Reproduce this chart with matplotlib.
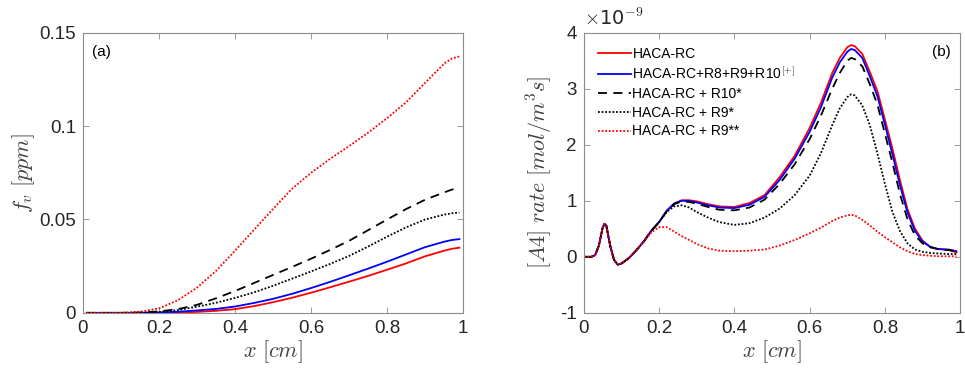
import matplotlib
matplotlib.use("Agg")
import matplotlib.pyplot as plt
from matplotlib.ticker import FuncFormatter

plt.rcParams['font.family'] = ['Liberation Sans', 'DejaVu Sans']
plt.rcParams['mathtext.fontset'] = 'cm'

# (a) soot volume fraction f_v [ppm] vs x [cm]
xa = [0.01, 0.1, 0.15, 0.2, 0.25, 0.3, 0.35, 0.4, 0.45, 0.5, 0.55, 0.6, 0.65,
      0.7, 0.75, 0.8, 0.85, 0.9, 0.95, 0.97, 0.99]
fv_haca = [0, 0, 0, 0.0001, 0.0002, 0.0005, 0.0011, 0.002, 0.0036, 0.0057, 0.0081,
           0.0108, 0.0137, 0.0167, 0.0198, 0.0231, 0.0265, 0.0303, 0.0333, 0.0343, 0.0349]
fv_all = [0, 0, 0, 0.0002, 0.0006, 0.0013, 0.0021, 0.0034, 0.0053, 0.0075, 0.0102,
          0.0133, 0.0166, 0.0201, 0.0237, 0.0274, 0.0313, 0.0352, 0.0381, 0.039, 0.0395]
fv_r10 = [0, 0, 0.0002, 0.0008, 0.002, 0.0043, 0.0078, 0.0117, 0.016, 0.0203, 0.0246,
          0.029, 0.0337, 0.0386, 0.0443, 0.05, 0.0556, 0.0606, 0.0645, 0.066, 0.0668]
fv_r9 = [0, 0, 0.0001, 0.0005, 0.0015, 0.0033, 0.0054, 0.008, 0.011, 0.0145, 0.0183,
         0.0222, 0.0262, 0.0305, 0.0355, 0.0408, 0.0458, 0.05, 0.0526, 0.0533, 0.0537]
fv_r9ss = [0, 0, 0.0006, 0.0024, 0.0068, 0.0135, 0.0225, 0.0333, 0.0445, 0.0557, 0.0665,
           0.075, 0.0825, 0.0893, 0.0965, 0.1043, 0.1128, 0.1232, 0.1335, 0.1362, 0.1373]

# (b) A4 rate [1e-9 mol/m^3 s] vs x [cm]
xb = [0, 0.02, 0.03, 0.04, 0.05, 0.055, 0.06, 0.07, 0.08, 0.09, 0.1, 0.12, 0.14,
      0.16, 0.18, 0.2, 0.22, 0.24, 0.26, 0.28, 0.3, 0.33, 0.36, 0.4, 0.44, 0.48,
      0.52, 0.56, 0.6, 0.63, 0.66, 0.68, 0.7, 0.71, 0.72, 0.74, 0.76, 0.78, 0.8,
      0.82, 0.84, 0.86, 0.88, 0.9, 0.92, 0.94, 0.97, 0.99]
start = [0, 0, 0.03, 0.2, 0.52, 0.59, 0.55, 0.2, -0.05, -0.14, -0.12, -0.02, 0.12, 0.28]
a4_haca = start + [0.47, 0.62, 0.82, 0.95, 1.01, 1.01, 0.99, 0.94, 0.9, 0.89, 0.96,
                   1.1, 1.42, 1.8, 2.3, 2.75, 3.28, 3.55, 3.74, 3.78, 3.76, 3.62,
                   3.3, 2.96, 2.45, 1.93, 1.37, 0.85, 0.5, 0.29, 0.18, 0.14, 0.12, 0.08]
a4_all = start + [0.47, 0.62, 0.82, 0.95, 1.0, 1.0, 0.97, 0.92, 0.88, 0.87, 0.93,
                  1.07, 1.37, 1.75, 2.23, 2.67, 3.2, 3.47, 3.66, 3.71, 3.69, 3.55,
                  3.22, 2.87, 2.36, 1.83, 1.28, 0.79, 0.46, 0.27, 0.18, 0.14, 0.13, 0.1]
a4_r10 = start + [0.47, 0.62, 0.81, 0.94, 0.99, 0.98, 0.95, 0.89, 0.84, 0.83, 0.88,
                  1.02, 1.3, 1.65, 2.1, 2.52, 3.0, 3.28, 3.5, 3.55, 3.53, 3.4,
                  3.08, 2.72, 2.2, 1.68, 1.12, 0.67, 0.38, 0.24, 0.17, 0.14, 0.12, 0.1]
a4_r9 = start + [0.47, 0.62, 0.8, 0.9, 0.92, 0.88, 0.8, 0.7, 0.62, 0.57, 0.6, 0.7,
                 0.86, 1.1, 1.45, 1.85, 2.35, 2.65, 2.85, 2.9, 2.88, 2.7,
                 2.35, 1.85, 1.3, 0.8, 0.46, 0.24, 0.13, 0.09, 0.07, 0.06, 0.05, 0.05]
a4_r9ss = start + [0.44, 0.53, 0.53, 0.45, 0.37, 0.3, 0.23, 0.15, 0.11, 0.1, 0.11,
                   0.13, 0.2, 0.3, 0.42, 0.52, 0.64, 0.7, 0.74, 0.75, 0.74, 0.66,
                   0.56, 0.45, 0.35, 0.26, 0.17, 0.1, 0.05, 0.03, 0.02, 0.01, 0.01, 0.01]

labels = ['HACA-RC', 'HACA-RC+R8+R9+R10$^{\\mathsf{[+]}}$', 'HACA-RC + R10*',
          'HACA-RC + R9*', 'HACA-RC + R9**']
styles = [dict(color='#ff0000', ls='-'), dict(color='#0000ff', ls='-'),
          dict(color='black', ls=(0, (5, 3.5))), dict(color='black', ls=(0, (1, 1))),
          dict(color='#ff0000', ls=(0, (1, 1)))]

fig = plt.figure(figsize=(9.65, 3.72), dpi=100)
ax1 = fig.add_axes([0.086, 0.159, 0.394, 0.753])
ax2 = fig.add_axes([0.605, 0.159, 0.39, 0.753])

for y, st in zip([fv_haca, fv_all, fv_r10, fv_r9, fv_r9ss], styles):
    ax1.plot(xa, y, lw=1.3, **st)
for y, st, lab in zip([a4_haca, a4_all, a4_r10, a4_r9, a4_r9ss], styles, labels):
    ax2.plot(xb, y, lw=1.3, label=lab, **st)

fmt = FuncFormatter(lambda v, p: '%g' % round(v, 6))
for ax in (ax1, ax2):
    ax.set_xlim(0, 1)
    ax.set_xticks([0, 0.2, 0.4, 0.6, 0.8, 1])
    ax.xaxis.set_major_formatter(fmt)
    ax.yaxis.set_major_formatter(fmt)
    ax.tick_params(direction='in', top=True, right=True, length=4, width=0.6,
                   labelsize=13.5, colors='#8c8c8c', labelcolor='#262626', pad=5)
    for s in ax.spines.values():
        s.set_color('#8c8c8c')
        s.set_linewidth(0.8)
    ax.set_xlabel('$x\\ [cm]$', fontsize=16, color='#404040', labelpad=1)

ax1.set_ylim(0, 0.15)
ax1.set_yticks([0, 0.05, 0.1, 0.15])
ax1.set_ylabel('$f_v\\ [ppm]$', fontsize=16, color='#404040', labelpad=2)
ax1.text(0.025, 0.955, '(a)', transform=ax1.transAxes, fontsize=11, va='top')

ax2.set_ylim(-1, 4)
ax2.set_yticks([-1, 0, 1, 2, 3, 4])
ax2.set_ylabel('$[A4]\\ rate\\ [mol/m^3s]$', fontsize=16, color='#404040', labelpad=4)
ax2.text(0.0, 1.015, '$\\times$10$^{-9}$', transform=ax2.transAxes, fontsize=14,
         color='#262626', va='bottom', ha='left', family=['DejaVu Sans'])
ax2.text(0.975, 0.955, '(b)', transform=ax2.transAxes, fontsize=11, va='top', ha='right')
ax2.legend(loc='upper left', frameon=False, fontsize=10, handlelength=2.4,
           handletextpad=0.1, labelspacing=0.35, borderaxespad=0.6,
           bbox_to_anchor=(0.0, 1.0))

fig.savefig('out.png', dpi=100)
